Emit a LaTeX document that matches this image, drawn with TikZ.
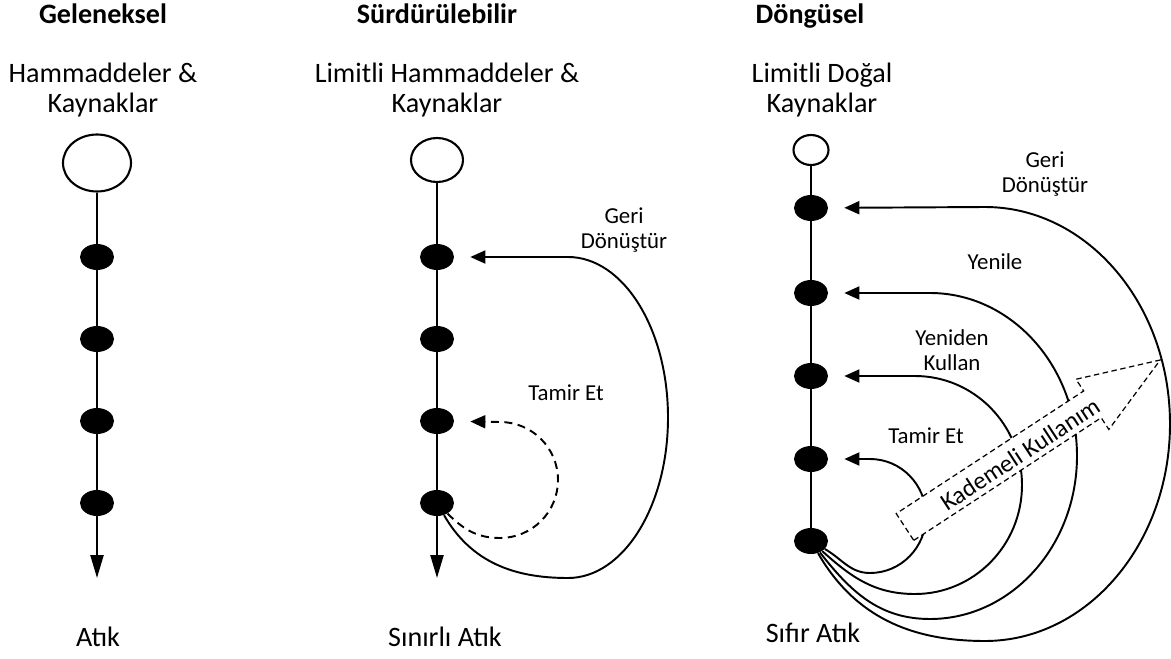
\documentclass[tikz,border=0pt]{standalone}
\usepackage{fontspec}
\setmainfont{Carlito}
\usetikzlibrary{shapes.geometric,arrows.meta}

\begin{document}
\begin{tikzpicture}[x=0.02cm, y=0.02cm,
  kaynak/.style={draw, ellipse, line width=1.2pt, inner sep=0pt, fill=white},
  durak/.style={ellipse, fill=black, inner sep=0pt, minimum width=0.68cm, minimum height=0.52cm},
  hat/.style={line width=1.3pt},
  atik/.style={line width=1.3pt, -{Triangle[length=0.46cm, width=0.26cm]}},
  donus/.style={line width=1.1pt, -{Triangle[length=0.3cm, width=0.26cm]}, shorten >=0.32cm},
  baslik/.style={anchor=base, font=\fontsize{16}{18}\selectfont\bfseries},
  metin/.style={align=center, font=\fontsize{16}{17.5}\selectfont},
  etiket/.style={align=center, font=\fontsize{13}{14.5}\selectfont}]
\useasboundingbox (0,0) rectangle (1171,-659);

% Geleneksel
\node[baslik] (t1) at (103,-24) {Geleneksel};
\node[metin] (k1) at (103,-90) {Hammaddeler \&\\Kaynaklar};
\node[kaynak, minimum width=1.36cm, minimum height=1.14cm] (a0) at (97,-163) {};
\node[durak] (a1) at (97,-257) {};
\node[durak] (a2) at (97,-339) {};
\node[durak] (a3) at (97,-421) {};
\node[durak] (a4) at (97,-503) {};
\coordinate (a5) at (97,-578);
\node[metin, anchor=base] (s1) at (98,-646) {Atık};
\draw[hat] (a0) -- (a1) -- (a2) -- (a3) -- (a4);
\draw[atik] (a4) -- (a5);

% Sürdürülebilir
\node[baslik] (t2) at (437,-24) {Sürdürülebilir};
\node[metin] (k2) at (447,-90) {Limitli Hammaddeler \&\\Kaynaklar};
\node[kaynak, minimum width=1.04cm, minimum height=0.88cm] (b0) at (437,-160) {};
\node[durak] (b1) at (437,-257) {};
\node[durak] (b2) at (437,-339) {};
\node[durak] (b3) at (437,-421) {};
\node[durak] (b4) at (437,-503) {};
\coordinate (b5) at (437,-578);
\node[metin, anchor=base] (s2) at (445,-646) {Sınırlı Atık};
\draw[hat] (b0) -- (b1) -- (b2) -- (b3) -- (b4);
\draw[atik] (b4) -- (b5);
\draw[donus] (b4) to[out=-60, in=180] (568,-578)
  arc[start angle=-90, end angle=90, x radius=100, y radius=160.5] -- (b1);
\draw[donus, dash pattern=on 1.6mm off 1.1mm] (b4) to[out=-45, in=180] (500,-538)
  arc[start angle=-90, end angle=90, radius=58] -- (b3);
\node[etiket] (g2) at (624,-230) {Geri\\Dönüştür};
\node[etiket] (r2) at (566,-393) {Tamir Et};

% Döngüsel
\node[baslik] (t3) at (810,-24) {Döngüsel};
\node[metin] (k3) at (822,-90) {Limitli Doğal\\Kaynaklar};
\node[kaynak, minimum width=0.7cm, minimum height=0.6cm] (c0) at (811,-150) {};
\node[durak] (c1) at (811,-208) {};
\node[durak] (c2) at (811,-293) {};
\node[durak] (c3) at (811,-376) {};
\node[durak] (c4) at (811,-459) {};
\node[durak] (c5) at (811,-541) {};
\node[metin, anchor=base] (s3) at (813,-642) {Sıfır Atık};
\draw[hat] (c0) -- (c1) -- (c2) -- (c3) -- (c4) -- (c5);
\draw[donus] (c5) to[out=-30, in=180] (870,-573)
  arc[start angle=-90, end angle=90, x radius=56, y radius=57] -- (c4);
\draw[donus] (c5) to[out=-42, in=180] (915,-594)
  arc[start angle=-90, end angle=90, x radius=107, y radius=109] -- (c3);
\draw[donus] (c5) to[out=-52, in=180] (930,-619)
  arc[start angle=-90, end angle=90, x radius=147, y radius=163] -- (c2);
\draw[donus] (c5) to[out=-60, in=180] (985,-641)
  arc[start angle=-90, end angle=90, x radius=185, y radius=217] -- (c1);
\node[etiket] (g3) at (1045,-174) {Geri\\Dönüştür};
\node[etiket] (y3) at (995,-262) {Yenile};
\node[etiket] (u3) at (952,-350) {Yeniden\\Kullan};
\node[etiket] (r3) at (926,-436) {Tamir Et};

% kademeli kullanim oku
\begin{scope}[shift={(905,-527)}, rotate=33.2]
\draw[line width=0.7pt, dash pattern=on 1.1mm off 0.7mm, fill=white]
  (0,-16) -- (224,-16) -- (224,-30) -- (305,0) -- (224,30) -- (224,16) -- (0,16) -- cycle;
\node[rotate=33.2, font=\fontsize{14}{16}\selectfont] (kademe) at (136,-2) {Kademeli Kullanım};
\end{scope}
\end{tikzpicture}
\end{document}
